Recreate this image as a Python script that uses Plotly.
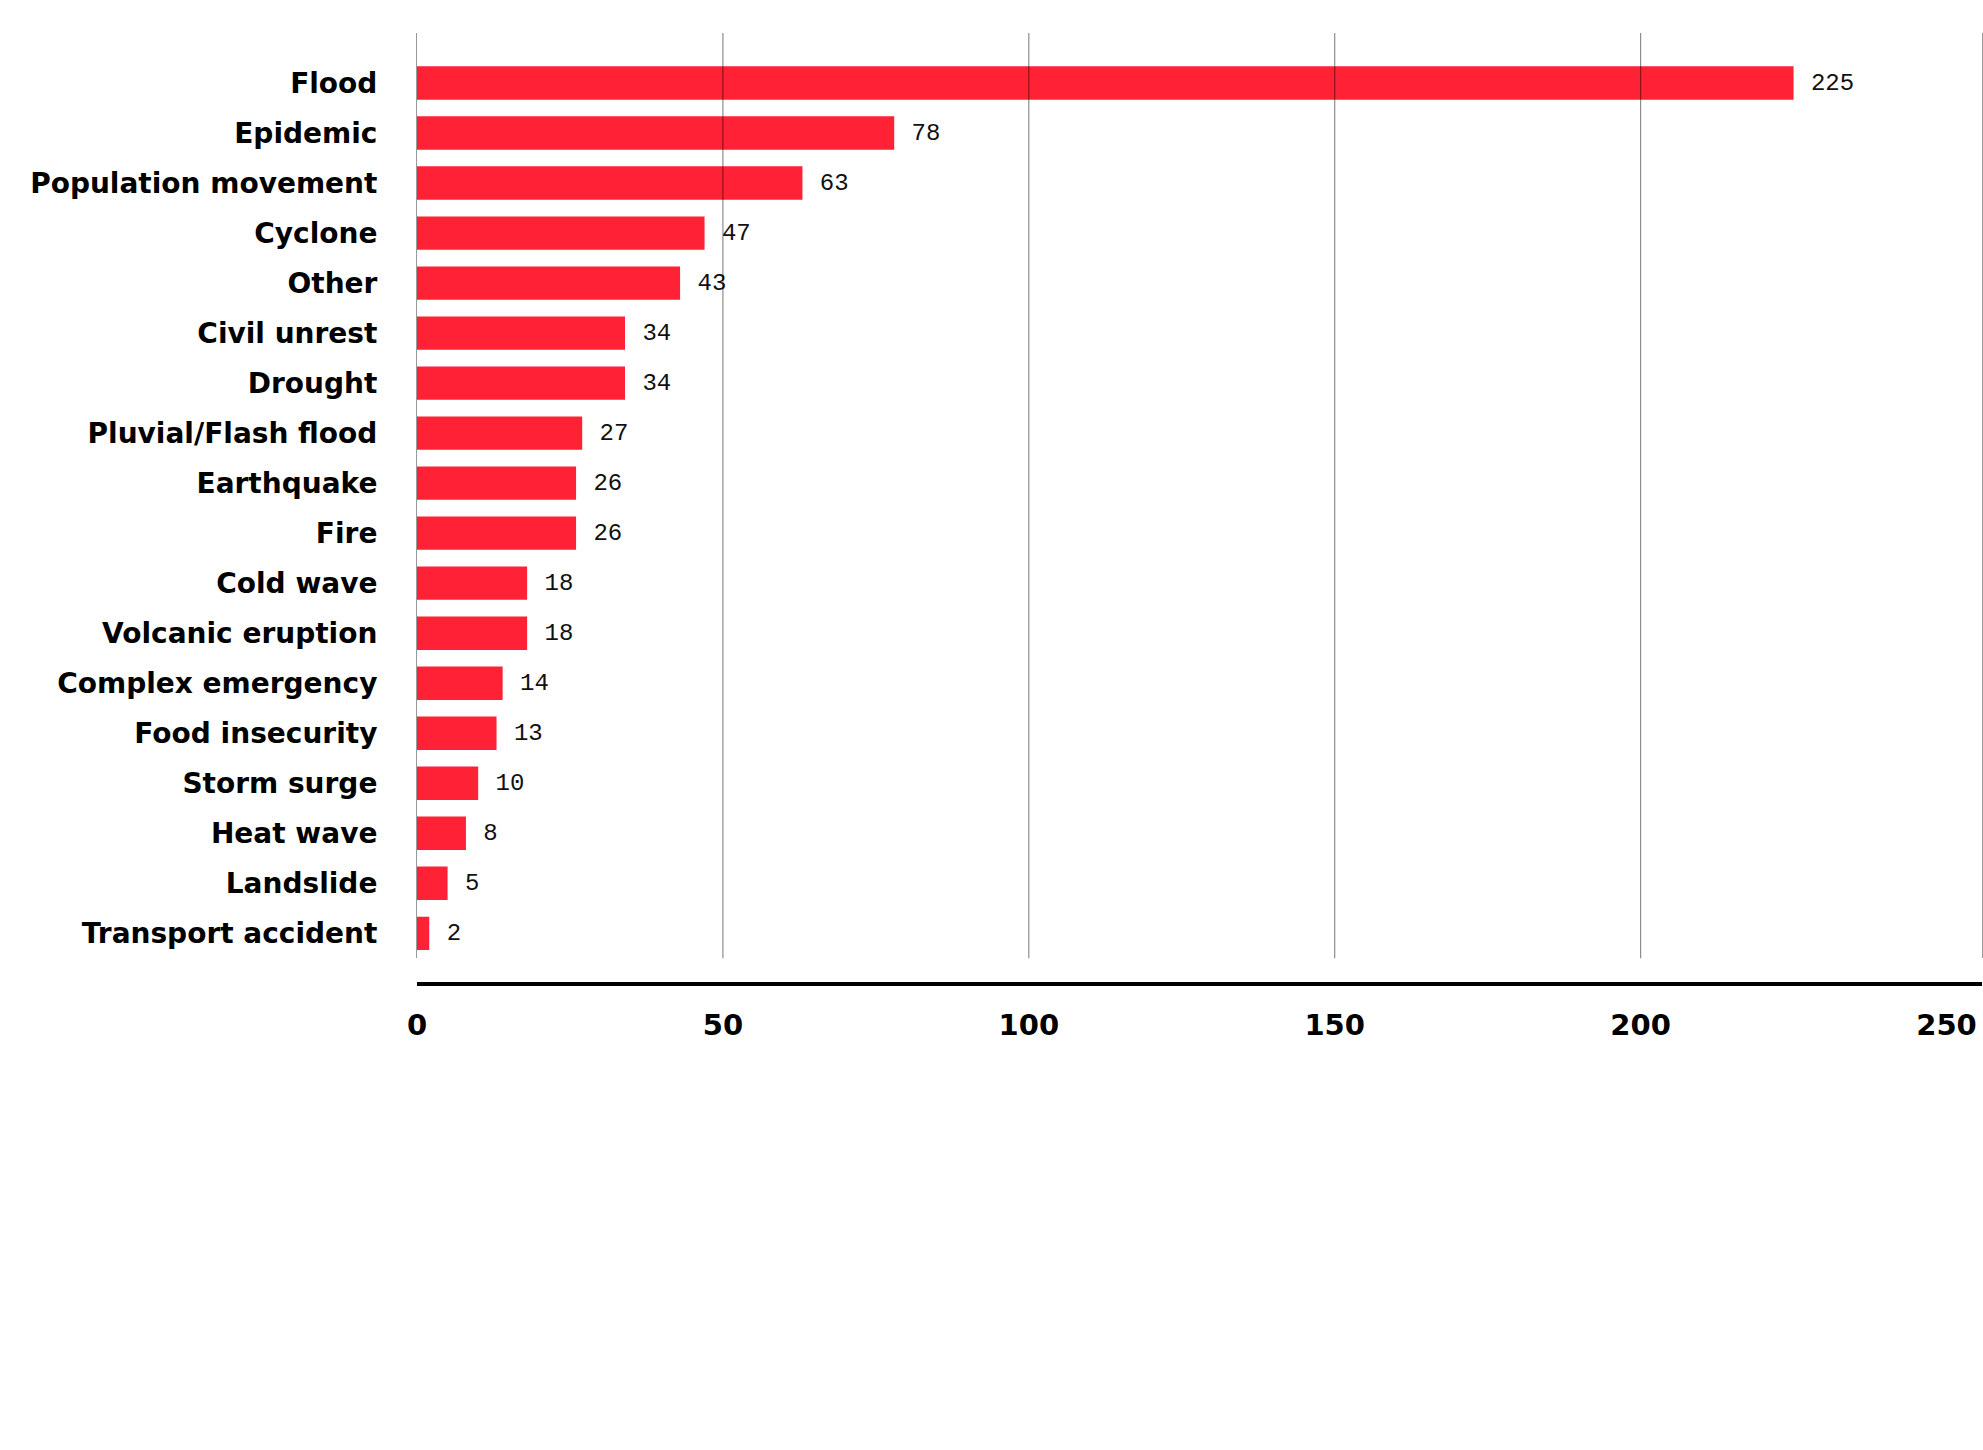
import plotly.graph_objects as go

categories = ["Flood", "Epidemic", "Population movement", "Cyclone", "Other",
              "Civil unrest", "Drought", "Pluvial/Flash flood", "Earthquake", "Fire",
              "Cold wave", "Volcanic eruption", "Complex emergency", "Food insecurity",
              "Storm surge", "Heat wave", "Landslide", "Transport accident"]
values = [225, 78, 63, 47, 43, 34, 34, 27, 26, 26, 18, 18, 14, 13, 10, 8, 5, 2]
x_ticks = [0, 50, 100, 150, 200, 250]
grid_values = [50, 100, 150, 200]

RED = "#FF2136"
LABEL_FONT = "DejaVu Sans"

fig = go.Figure(go.Bar(
    x=values, y=categories, orientation="h",
    marker=dict(color=RED, line=dict(width=0)),
    texttemplate=" %{x}", textposition="outside",
    textfont=dict(family="Liberation Mono", size=24, color="#111"),
    constraintext="none", cliponaxis=False,
    width=0.667,
))

for g in grid_values:
    fig.add_shape(type="line", xref="x", yref="y domain", x0=g, x1=g, y0=0, y1=1,
                  line=dict(color="rgba(0,0,0,0.45)", width=1.2), layer="above")

fig.update_layout(
    width=1983, height=1450,
    margin=dict(l=417, r=1, t=33, b=466),
    paper_bgcolor="white", plot_bgcolor="white",
    showlegend=False,
    xaxis=dict(range=[0, 255.8], tickvals=x_ticks, showgrid=False, zeroline=False,
               anchor="free", position=0, showline=True, linecolor="black", linewidth=4,
               ticks="", ticklabelstandoff=14, ticklabeloverflow="allow",
               tickfont=dict(family=LABEL_FONT, size=29, color="black", weight=700)),
    yaxis=dict(type="category", categoryorder="array", categoryarray=categories,
               range=[17.5, -1], domain=[0.027, 1], showgrid=False, zeroline=False,
               showline=True, mirror=True, linecolor="#999", linewidth=1,
               ticks="", ticklabelstandoff=33,
               tickfont=dict(family=LABEL_FONT, size=28, color="black", weight=700)),
)

fig.write_html("out.html")
